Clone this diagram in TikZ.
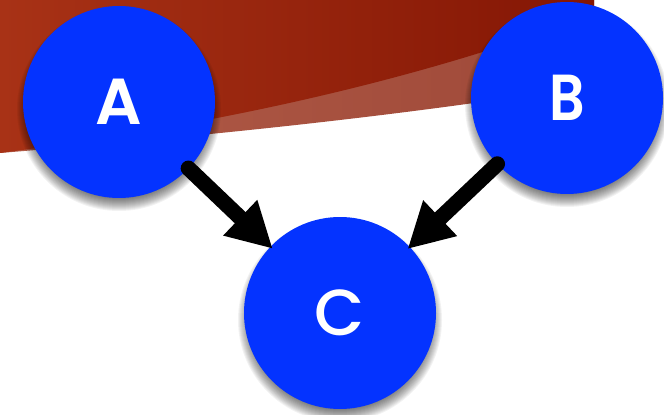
\documentclass[tikz,border=0pt]{standalone}
\usepackage{fontspec}
\newfontfamily\labelfont{Poppins SemiBold}
\newfontfamily\thinlabelfont{Poppins Medium}
\usetikzlibrary{arrows.meta}
\definecolor{nodeblue}{HTML}{0433FF}

\tikzset{
    vertex/.style={circle, fill=nodeblue, text=white, minimum size=3.84cm, inner sep=0pt, outer sep=0pt, font=\fontsize{37}{37}\labelfont},
    edge/.style={line width=0.31cm, line cap=round, -{Triangle[length=0.9cm, width=0.92cm]}, shorten >=-0.06cm},
}

\begin{document}
\begin{tikzpicture}
    \useasboundingbox (0,0) rectangle (13.28,8.28);

    % red swoosh along the top
    \shade[left color={rgb,255:red,178;green,92;blue,72}, right color={rgb,255:red,158;green,72;blue,56}]
    (0,8.28) -- (0,5.22) .. controls (4,5.55) and (8,5.95) .. (11.88,6.58) -- (11.88,8.28) -- cycle;
    \shade[left color={rgb,255:red,168;green,50;blue,22}, right color={rgb,255:red,132;green,22;blue,4}]
    (0,8.28) -- (0,5.22) .. controls (4,5.75) and (8,6.55) .. (11.88,8.0) -- (11.88,8.28) -- cycle;

    % soft drop shadows
    \foreach \pos in {(2.38,6.24), (11.34,6.32), (6.80,2.02)} {
        \foreach \r in {1.70,1.72,...,2.06} {
            \fill[black, opacity=0.05] \pos ++(0,-0.14) circle (\r);
        }
    }

    \node[vertex] (A) at (2.38,6.24) {A};
    \node[vertex] (B) at (11.34,6.32) {\scalebox{0.85}[1]{B}};
    \node[vertex, font=\fontsize{37}{37}\thinlabelfont] (C) at (6.80,2.02) {C};

    \draw[edge] (A) -- (C);
    \draw[edge] (B) -- (C);
\end{tikzpicture}
\end{document}
